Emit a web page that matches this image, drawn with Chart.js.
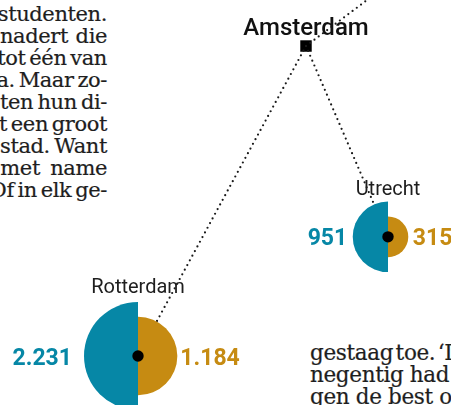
<!DOCTYPE html>
<html>
<head>
<meta charset="utf-8">
<script src="https://cdn.jsdelivr.net/npm/chart.js@4.4.1/dist/chart.umd.min.js"></script>
<style>
  html, body { margin: 0; padding: 0; background: #ffffff; }
  #wrap { position: relative; width: 451px; height: 405px; overflow: hidden; }
  #chart { position: absolute; left: 0; top: 0; }
  .ln { position: absolute; font-family: "DejaVu Serif", serif; font-size: 21px; line-height: 22px; height: 22px; color: #1e1e1e; white-space: pre; -webkit-text-stroke: 0.2px #1e1e1e; letter-spacing: -0.4px; }
  .rt { font-size: 21.5px; letter-spacing: -0.35px; }
</style>
</head>
<body>
<div id="wrap">
  <div id="textLayer"></div>
  <canvas id="chart" width="451" height="405"></canvas>
</div>
<script>
// ---- data ----
const cities = ['Amsterdam', 'Rotterdam', 'Utrecht'];
const cityLon = [4.90, 4.48, 5.105];          // schematic map x (longitude)
const cityLat = [52.37, 51.92, 52.093];       // schematic map y (latitude)
const blueValues = [null, 2231, 951];
const goldValues = [null, 1184, 315];
const routeOffLon = 5.30;                     // route leaving the picture top-right
const routeOffLat = 52.545;
const leftColumnText = ['studenten.', 'nadert die', 'tot één van', 'a. Maar zo-', 'ten hun di-', 't een groot', 'stad. Want', 'met name', 'Of in elk ge-'];
const rightColumnText = ['gestaag toe. ‘In', 'negentig had', 'gen de best o'];

// ---- styles ----
const BLUE = '#0687a6';
const GOLD = '#c68b12';
const R_MAX = 54;
const nameGap = [0, 9, 6.5];
const leftValGap = [0, 12, 5.5];
const rightValGap = [0, 3, 4.5];
const COL_RIGHT = 107, LINE_H = 22, LEFT_TOP = 2.7, RIGHT_TOP = 341.6, RIGHT_X = 310;
const rightWordSpacing = [-4, 0, 0];

function fmt(n) { return String(n).replace(/\B(?=(\d{3})+(?!\d))/g, '.'); }

// body text columns (justified newspaper lines, left column cut by the page edge)
const layer = document.getElementById('textLayer');
leftColumnText.forEach((t, k) => {
  const d = document.createElement('div');
  d.className = 'ln';
  d.textContent = t;
  d.style.top = (LEFT_TOP + k * LINE_H) + 'px';
  layer.appendChild(d);
  const w = d.getBoundingClientRect().width;
  const spaces = (t.match(/ /g) || []).length;
  let ws = 0;
  if (spaces > 0) ws = Math.min(4, Math.max(-2.5, (COL_RIGHT - w) / spaces));
  d.style.wordSpacing = ws + 'px';
  d.style.left = (COL_RIGHT - (w + ws * spaces)) + 'px';
});
rightColumnText.forEach((t, k) => {
  const d = document.createElement('div');
  d.className = 'ln rt';
  d.textContent = t;
  d.style.top = (RIGHT_TOP + k * LINE_H) + 'px';
  d.style.left = RIGHT_X + 'px';
  d.style.wordSpacing = rightWordSpacing[k] + 'px';
  layer.appendChild(d);
});

const vmax = Math.max(...blueValues.filter(v => v != null), ...goldValues.filter(v => v != null));
const radius = v => R_MAX * Math.sqrt(v / vmax);

const dotted = {
  borderColor: '#1a1a1a', borderWidth: 2.2, borderDash: [0, 5.3], borderCapStyle: 'round',
  pointRadius: 0, showLine: true, fill: false, tension: 0
};
const routes = [
  Object.assign({ data: [{ x: cityLon[0], y: cityLat[0] }, { x: cityLon[1], y: cityLat[1] }] }, dotted),
  Object.assign({ data: [{ x: cityLon[0], y: cityLat[0] }, { x: cityLon[2], y: cityLat[2] }] }, dotted),
  Object.assign({ data: [{ x: cityLon[0], y: cityLat[0] }, { x: routeOffLon, y: routeOffLat }] }, dotted)
];

const bubbles = {
  id: 'bubbles',
  afterDatasetsDraw(chart) {
    const ctx = chart.ctx, xs = chart.scales.x, ys = chart.scales.y;
    ctx.save();
    cities.forEach((name, i) => {
      const cx = xs.getPixelForValue(cityLon[i]);
      const cy = ys.getPixelForValue(cityLat[i]);
      ctx.textAlign = 'center';
      ctx.textBaseline = 'alphabetic';
      if (blueValues[i] == null) {
        ctx.font = '500 24px Roboto';
        ctx.fillStyle = '#111';
        ctx.fillText(name, cx, cy - 11);
        return;
      }
      const rb = radius(blueValues[i]);
      const rg = radius(goldValues[i]);
      ctx.fillStyle = BLUE;
      ctx.beginPath(); ctx.moveTo(cx, cy);
      ctx.arc(cx, cy, rb, Math.PI / 2, Math.PI * 1.5); ctx.closePath(); ctx.fill();
      ctx.fillStyle = GOLD;
      ctx.beginPath(); ctx.moveTo(cx, cy);
      ctx.arc(cx, cy, rg, -Math.PI / 2, Math.PI / 2); ctx.closePath(); ctx.fill();
      ctx.fillStyle = '#000';
      ctx.beginPath(); ctx.arc(cx, cy, 5.7, 0, Math.PI * 2); ctx.fill();
      // city name
      ctx.font = '400 20px Roboto';
      ctx.fillStyle = '#1e1e1e';
      ctx.textAlign = 'center';
      ctx.fillText(name, cx, cy - rb - nameGap[i]);
      // values
      ctx.font = '700 23px Roboto';
      ctx.fillStyle = BLUE;
      ctx.textAlign = 'right';
      ctx.fillText(fmt(blueValues[i]), cx - rb - leftValGap[i], cy + 8.5);
      ctx.fillStyle = GOLD;
      ctx.textAlign = 'left';
      ctx.fillText(fmt(goldValues[i]), cx + rg + rightValGap[i], cy + 8.5);
    });
    ctx.restore();
  }
};

new Chart(document.getElementById('chart'), {
  type: 'scatter',
  data: {
    datasets: [
      ...routes,
      {
        data: [{ x: cityLon[0], y: cityLat[0] }],
        pointStyle: 'rect', pointRadius: 8.1, backgroundColor: '#000', borderWidth: 0, showLine: false
      }
    ]
  },
  options: {
    responsive: false,
    animation: false,
    layout: { padding: 0, autoPadding: false },
    plugins: { legend: { display: false }, tooltip: { enabled: false } },
    scales: {
      x: { type: 'linear', display: false, min: 4.135, max: 5.2625 },
      y: { type: 'linear', display: false, min: 51.8489, max: 52.4368 }
    }
  },
  plugins: [bubbles]
});
</script>
</body>
</html>
